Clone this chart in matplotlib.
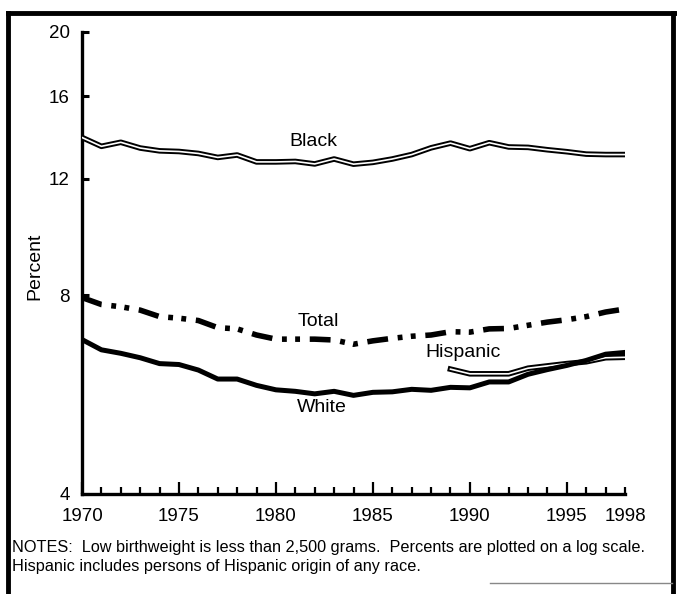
import matplotlib
matplotlib.use('Agg')
import matplotlib.pyplot as plt
from matplotlib.lines import Line2D
import numpy as np

plt.rcParams['font.family'] = ['Liberation Sans', 'DejaVu Sans']
plt.rcParams['lines.scale_dashes'] = False

years = list(range(1970, 1999))
black = [13.85, 13.43, 13.62, 13.35, 13.22, 13.19, 13.10, 12.92, 13.03, 12.72,
         12.72, 12.74, 12.63, 12.85, 12.62, 12.70, 12.85, 13.05, 13.36, 13.58,
         13.32, 13.60, 13.40, 13.38, 13.27, 13.18, 13.07, 13.05, 13.05]
total = [7.93, 7.74, 7.68, 7.59, 7.42, 7.38, 7.32, 7.14, 7.11, 6.96,
         6.86, 6.86, 6.86, 6.84, 6.74, 6.82, 6.88, 6.93, 6.96, 7.04,
         7.03, 7.11, 7.12, 7.20, 7.28, 7.34, 7.42, 7.54, 7.62]
white = [6.85, 6.61, 6.53, 6.43, 6.30, 6.28, 6.16, 5.97, 5.97, 5.84,
         5.75, 5.72, 5.67, 5.72, 5.64, 5.70, 5.71, 5.76, 5.74, 5.80,
         5.79, 5.91, 5.91, 6.07, 6.17, 6.26, 6.37, 6.51, 6.55]
hisp_years = list(range(1989, 1999))
hispanic = [6.18, 6.08, 6.08, 6.08, 6.20, 6.25, 6.30, 6.34, 6.43, 6.44]

ytick_vals = [4, 8, 12, 16, 20]
xtick_vals = [1970, 1975, 1980, 1985, 1990, 1995, 1998]
notes = ("NOTES:  Low birthweight is less than 2,500 grams.  Percents are plotted on a log scale.\n"
         "Hispanic includes persons of Hispanic origin of any race.")

fig = plt.figure(figsize=(6.77, 5.94), dpi=100)
ax = fig.add_axes([82/677, 1-494/594, (625-82)/677, (494-32)/594])

# double lines (black outline with white core)
for xs, ys in [(years, black), (hisp_years, hispanic)]:
    ax.plot(xs, ys, color='black', lw=4.0, zorder=3)
    ax.plot(xs, ys, color='white', lw=1.2, zorder=4)

ax.plot(years, white, color='black', lw=3.6, zorder=5)
tl, = ax.plot(years, total, color='black', lw=4.0, zorder=5)
tl.set_dashes([15, 7, 3.5, 6, 3.5, 7])
tl.set_dash_capstyle('butt')

ax.set_yscale('log')
ax.set_ylim(4, 20)
ax.set_xlim(1970, 1998)
ax.yaxis.set_major_locator(matplotlib.ticker.FixedLocator(ytick_vals))
ax.yaxis.set_minor_locator(matplotlib.ticker.NullLocator())
ax.set_yticklabels([str(v) for v in ytick_vals])
ax.set_xticks(xtick_vals)
ax.set_xticklabels([str(v) for v in xtick_vals])
ax.set_xticks(years, minor=True)

for s in ['top', 'right']:
    ax.spines[s].set_visible(False)
for s in ['left', 'bottom']:
    ax.spines[s].set_linewidth(2.4)

ax.tick_params(axis='y', which='major', direction='in', length=5, width=2.2,
               labelsize=13.5, pad=9)
ax.tick_params(axis='x', which='major', direction='in', length=9, width=1.6,
               labelsize=13.5, pad=10)
ax.tick_params(axis='x', which='minor', direction='in', length=5, width=1.6)
ax.xaxis.get_major_ticks()[-1].tick1line.set_markersize(5)

ax.text(1980.7, 13.65, 'Black', fontsize=14, ha='left', va='center')
ax.text(1981.1, 7.3, 'Total', fontsize=14, ha='left', va='center')
ax.text(1981.1, 5.4, 'White', fontsize=14, ha='left', va='center')
ax.text(1987.7, 6.54, 'Hispanic', fontsize=14, ha='left', va='center')

fig.text(35/677, 1-266/594, 'Percent', rotation=90, fontsize=14,
         ha='center', va='center')
fig.text(12/677, 1-540/594, notes, fontsize=11.7, ha='left', va='top',
         linespacing=1.3)

# page frame
fig.add_artist(Line2D([8/677, 8/677], [0, 1-13/594], color='black', lw=3.5))
fig.add_artist(Line2D([8/677, 1], [1-13/594, 1-13/594], color='black', lw=3.5))
fig.add_artist(Line2D([673/677, 673/677], [0, 1-13/594], color='black', lw=3.5))
fig.add_artist(Line2D([490/677, 672/677], [1-583/594, 1-583/594], color='#888888', lw=1))

fig.savefig('out.png', dpi=100)
